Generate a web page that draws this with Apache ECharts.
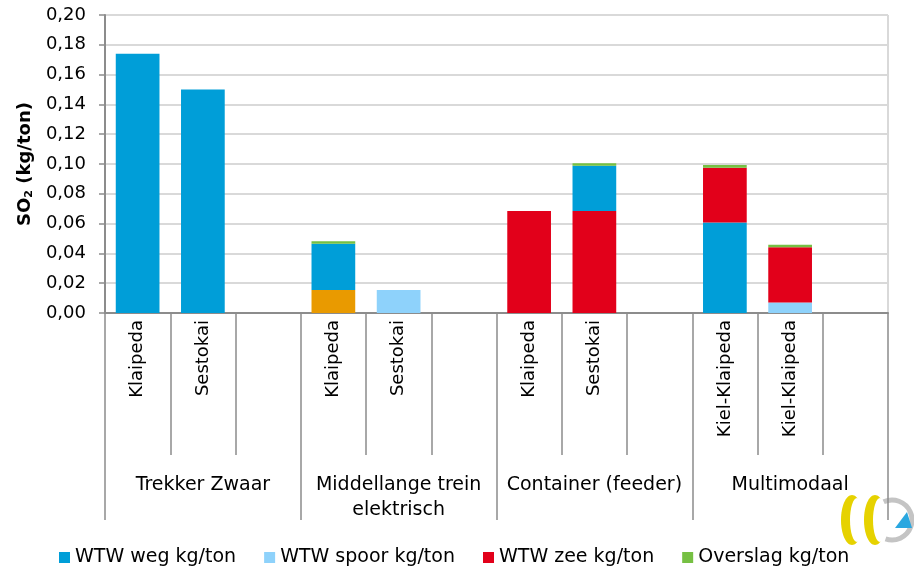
<!DOCTYPE html>
<html>
<head>
<meta charset="utf-8">
<script src="https://cdn.jsdelivr.net/npm/echarts@6/dist/echarts.min.js"></script>
<style>
html, body { margin: 0; padding: 0; background: #fff; }
#chart { width: 914px; height: 572px; }
</style>
</head>
<body>
<div id="chart"></div>
<script>
// categorieen: 4 groepen van 3 posities (derde positie leeg)
var routes = ['Klaipeda', 'Sestokai', '', 'Klaipeda', 'Sestokai', '', 'Klaipeda', 'Sestokai', '', 'Kiel-Klaipeda', 'Kiel-Klaipeda', ''];
var groups = ['Trekker Zwaar', 'Middellange trein\nelektrisch', 'Container (feeder)', 'Multimodaal'];
var yTicks = [0, 0.02, 0.04, 0.06, 0.08, 0.10, 0.12, 0.14, 0.16, 0.18, 0.20];

// SO2 in kg/ton, gestapeld
var overig = ['-', '-', '-', 0.0155, '-', '-', '-', '-', '-', '-', '-', '-'];        // oranje, niet in legenda
var spoor = ['-', '-', '-', '-', 0.0155, '-', '-', '-', '-', '-', 0.007, '-'];
var wegOnder = [0.174, 0.150, '-', 0.031, '-', '-', '-', '-', '-', 0.0607, '-', '-'];
var zee = ['-', '-', '-', '-', '-', '-', 0.0685, 0.0685, '-', 0.0368, 0.0372, '-'];
var wegBoven = ['-', '-', '-', '-', '-', '-', '-', 0.0304, '-', '-', '-', '-'];
var overslag = ['-', '-', '-', 0.0016, '-', '-', '-', 0.0016, '-', 0.0018, 0.0016, '-'];

var FONT = 'DejaVu Sans';
var cBlauw = '#009ed8', cLicht = '#8ed2fb', cRood = '#e2001a', cGroen = '#76c043', cOranje = '#e99a00';
var cAs = '#8c8c8c';

function bar(name, data, color) {
    return {
        name: name,
        type: 'bar',
        stack: 'totaal',
        xAxisIndex: 0,
        barCategoryGap: '33%',
        itemStyle: { color: color },
        data: data
    };
}

var chart = echarts.init(document.getElementById('chart'));
chart.setOption({
    animation: false,
    textStyle: { fontFamily: FONT },
    grid: { left: 105, right: 26, top: 15, bottom: 259, outerBoundsMode: 'none' },
    legend: {
        data: ['WTW weg kg/ton', 'WTW spoor kg/ton', 'WTW zee kg/ton', 'Overslag kg/ton'],
        left: 54,
        top: 543,
        icon: 'rect',
        itemWidth: 11,
        itemHeight: 11,
        itemGap: 28,
        itemStyle: { borderWidth: 0 },
        textStyle: { fontFamily: FONT, fontSize: 19, color: '#000' }
    },
    xAxis: [{
        type: 'category',
        data: routes,
        position: 'bottom',
        axisLine: { show: true, lineStyle: { color: cAs, width: 2 } },
        axisTick: { show: true, interval: 0, length: 142, lineStyle: { color: cAs, width: 1.5 } },
        axisLabel: { interval: 0, rotate: 90, margin: 7, fontFamily: FONT, fontSize: 18, color: '#000' }
    }, {
        type: 'category',
        data: groups,
        position: 'bottom',
        axisLine: { show: false },
        axisTick: { show: true, interval: 0, length: 207, lineStyle: { color: cAs, width: 1.5 } },
        axisLabel: { interval: 0, margin: 160, fontFamily: FONT, fontSize: 19, lineHeight: 25, color: '#000' }
    }],
    yAxis: {
        type: 'value',
        min: 0,
        max: 0.2,
        interval: 0.02,
        name: '{a|SO}{b|2}{a| (kg/ton)}',
        nameLocation: 'middle',
        nameGap: 69,
        nameTextStyle: {
            rich: {
                a: { fontFamily: FONT, fontSize: 18, fontWeight: 'bold', color: '#000' },
                b: { fontFamily: FONT, fontSize: 11, fontWeight: 'bold', color: '#000', padding: [9, 0, 0, 0] }
            }
        },
        axisLine: { show: true, lineStyle: { color: cAs, width: 2 } },
        axisTick: { show: true, length: 6, lineStyle: { color: cAs, width: 1.5 } },
        axisLabel: {
            margin: 19,
            fontFamily: FONT,
            fontSize: 18,
            color: '#000',
            formatter: function (v) { return v.toFixed(2).replace('.', ','); }
        },
        splitLine: { lineStyle: { color: '#d9d9d9', width: 2 } }
    },
    series: [
        bar('Overig', overig, cOranje),
        bar('WTW spoor kg/ton', spoor, cLicht),
        bar('WTW weg kg/ton', wegOnder, cBlauw),
        bar('WTW zee kg/ton', zee, cRood),
        bar('WTW weg kg/ton', wegBoven, cBlauw),
        bar('Overslag kg/ton', overslag, cGroen)
    ],
    graphic: [
        // rechter kader van het plotvlak
        { type: 'line', shape: { x1: 888, y1: 15, x2: 888, y2: 313 }, style: { stroke: '#d9d9d9', lineWidth: 2 }, silent: true },
        // logo rechtsonder
        { type: 'ellipse', shape: { cx: 852, cy: 520, rx: 11, ry: 25 }, style: { fill: '#e6d200' }, silent: true },
        { type: 'ellipse', shape: { cx: 857, cy: 520, rx: 7, ry: 22 }, style: { fill: '#ffffff' }, silent: true },
        { type: 'ellipse', shape: { cx: 875, cy: 520, rx: 11, ry: 25 }, style: { fill: '#e6d200' }, silent: true },
        { type: 'ellipse', shape: { cx: 880, cy: 520, rx: 7, ry: 22 }, style: { fill: '#ffffff' }, silent: true },
        { type: 'arc', shape: { cx: 892, cy: 520, r: 20, startAngle: -2.0, endAngle: 1.9 }, style: { fill: 'none', stroke: '#c4c4c4', lineWidth: 5 }, silent: true },
        { type: 'polygon', shape: { points: [[895, 528], [912, 528], [907, 512]] }, style: { fill: '#2aa7e0' }, silent: true }
    ]
});
</script>
</body>
</html>
